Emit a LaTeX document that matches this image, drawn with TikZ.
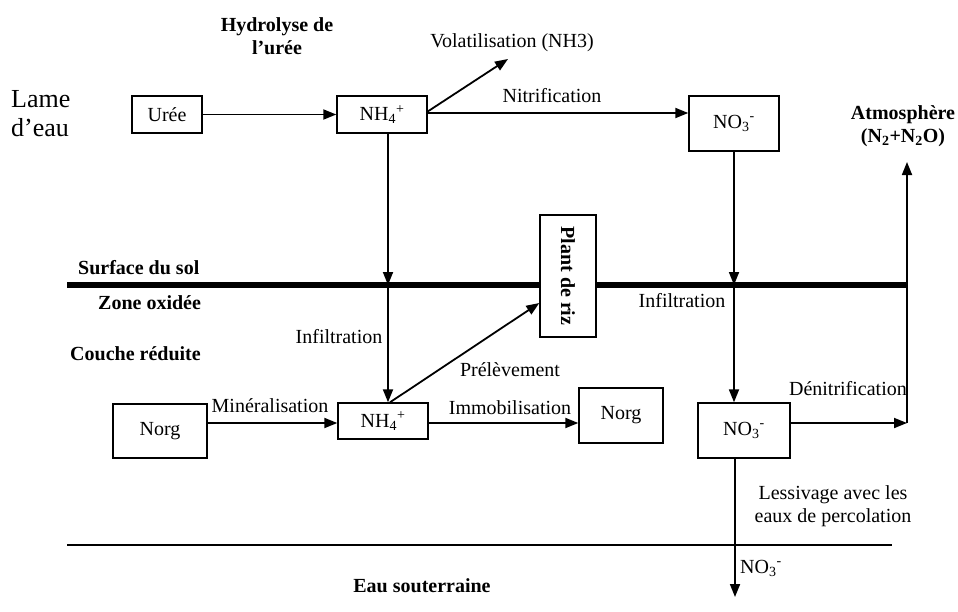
\documentclass[tikz,border=0pt]{standalone}
\usepackage{fontspec}
\usepackage{graphicx}
\setmainfont{Liberation Serif}
\usetikzlibrary{arrows.meta}
\newcommand\fs{\fontsize{20}{23}\selectfont}
\begin{document}
\begin{tikzpicture}[x=1pt,y=-1pt,
  box/.style={draw,line width=1.4pt,inner sep=0pt,fill=white,font=\fs},
  lbl/.style={inner sep=0pt,font=\fs},
  blbl/.style={inner sep=0pt,font=\fs\bfseries},
  arr/.style={line width=1.8pt,-{Triangle[length=13pt,width=10pt]}},
  soil/.style={line width=6.5pt},
  thin/.style={line width=1.4pt}]
\useasboundingbox (0,0) rectangle (958,611);

% soil surface and groundwater limit
\draw[soil] (67,285) -- (907,285);
\draw[thin] (67,545) -- (892,545);

% boxes
\node[box,minimum width=70pt,minimum height=37pt] (uree) at (167,114.5) {Urée};
\node[box,minimum width=90pt,minimum height=37pt] (nhA) at (382,114.5) {NH\textsubscript{4}\textsuperscript{+}};
\node[box,minimum width=90pt,minimum height=55pt] (noA) at (734,123.5) {NO\textsubscript{3}\textsuperscript{-}};
\node[box,minimum width=56pt,minimum height=122pt,font=\fs\bfseries] (plant) at (568,276) {\rotatebox{-90}{Plant de riz}};
\node[box,minimum width=94pt,minimum height=54pt] (norgL) at (160,431) {Norg};
\node[box,minimum width=90pt,minimum height=36pt] (nhB) at (383,421) {NH\textsubscript{4}\textsuperscript{+}};
\node[box,minimum width=84pt,minimum height=55pt] (norgR) at (621,415.5) {Norg};
\node[box,minimum width=92pt,minimum height=55pt] (noB) at (744,430.5) {NO\textsubscript{3}\textsuperscript{-}};

% free ends
\coordinate (vol) at (508,59);
\coordinate (s1) at (388,285);
\coordinate (s2) at (734,285);
\coordinate (mrow) at (0,423);
\coordinate (dEnd) at (907,423);
\coordinate (atm) at (907,162);
\coordinate (lEnd) at (735,597);

% connectors
\draw[arr] (uree) -- (nhA);
\draw[arr] ([yshift=3pt]nhA.east) -- (vol);
\draw[arr] ([yshift=1.5pt]nhA.east) -- ([yshift=1.5pt]nhA.east -| noA.west);
\draw[arr] (nhA.south -| s1) -- (s1);
\draw[arr] (s1) -- (s1 |- nhB.north);
\draw[arr] (noA.south -| s2) -- (s2);
\draw[arr] (s2) -- (s2 |- noB.north);
\draw[arr] ([xshift=7pt]nhB.north) -- ([yshift=-27pt]plant.west);
\draw[arr] (norgL.east |- mrow) -- (nhB.west |- mrow);
\draw[arr] (nhB.east |- mrow) -- (norgR.west |- mrow);
\draw[arr] (noB.east |- mrow) -- (dEnd);
\draw[arr] (dEnd) -- (atm);
\draw[arr] (noB.south -| lEnd) -- (lEnd);

% labels
\node[lbl,font=\fontsize{26}{29}\selectfont,align=left,anchor=west] (lame) at (11,114) {Lame\\d'eau};
\node[blbl,align=center] (hyd) at (277,36) {Hydrolyse de\\l'urée};
\node[lbl] (volt) at (512,43) {Volatilisation (NH3)};
\node[lbl] (nitr) at (552,96) {Nitrification};
\node[blbl,align=center] (atmt) at (903,126) {Atmosphère\\(N\textsubscript{2}+N\textsubscript{2}O)};
\node[blbl,anchor=west] (surf) at (78,268) {Surface du sol};
\node[blbl,anchor=west] (zox) at (98,303) {Zone oxidée};
\node[blbl,anchor=west] (cred) at (70,354) {Couche réduite};
\node[lbl] (infL) at (339,337) {Infiltration};
\node[lbl] (infR) at (682,301) {Infiltration};
\node[lbl] (prel) at (510,370) {Prélèvement};
\node[lbl] (mine) at (270,406) {Minéralisation};
\node[lbl] (immo) at (510,408) {Immobilisation};
\node[lbl,anchor=east] (deni) at (907,389) {Dénitrification};
\node[lbl,align=center] (less) at (833,506) {Lessivage avec les\\eaux de percolation};
\node[lbl,anchor=west] (no3g) at (740,568) {NO\textsubscript{3}\textsuperscript{-}};
\node[blbl] (eau) at (422,586) {Eau souterraine};
\end{tikzpicture}
\end{document}
